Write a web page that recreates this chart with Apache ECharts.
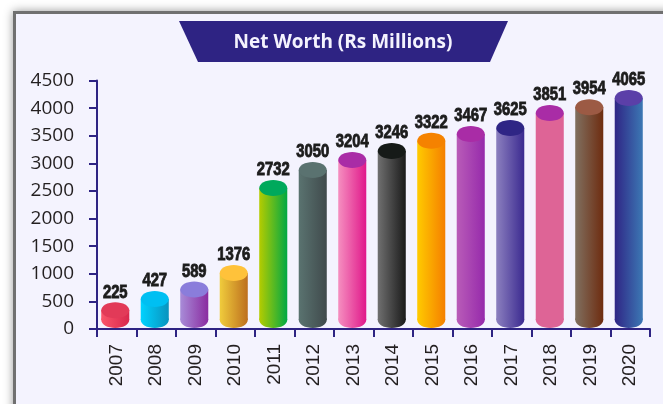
<!DOCTYPE html>
<html><head><meta charset="utf-8">
<style>html,body{margin:0;padding:0;background:#fff}#c{width:663px;height:404px}</style>
<script src="https://cdn.jsdelivr.net/npm/echarts@6/dist/echarts.min.js"></script>
</head><body><div id="c"></div>
<script>
const years = ['2007','2008','2009','2010','2011','2012','2013','2014','2015','2016','2017','2018','2019','2020'];
// values printed above the cylinders
const netWorth = [225,427,589,1376,2732,3050,3204,3246,3322,3467,3625,3851,3954,4065];
// cylinder heights as read against the axis (the picture draws some below their printed value)
const drawnHeight = [220,427,598,897,2437,2763,2944,3107,3293,3415,3524,3795,3899,4067];
const sideLeft = ['#F9556B','#00D2FF','#A88CD8','#F0CC3C','#B5CC00','#5A7370','#F58FC0','#707070','#FFCB00','#B95CB8','#8C80BF','#DE6496','#807060','#2F2585'];
const sideRight = ['#D9284C','#0A93BE','#8A2BA0','#BD6F1E','#00A843','#404A4C','#E0188A','#1A1A1A','#F57F00','#962AAB','#3B2A90','#DE6496','#6E2C10','#3C78B4'];
const topColor = ['#E23A58','#00BFF2','#8A7DDB','#FFC23A','#00A95C','#5A7270','#A92CA6','#161A18','#F58200','#A92CA6','#2F2585','#A92CA6','#9C5A44','#5B3FA8'];
const titleText = 'Net Worth (Rs Millions)';
const navy = '#2E2383', ink = '#231F20';

const chart = echarts.init(document.getElementById('c'), null, {renderer:'canvas'});
function renderCyl(params, api){
  const i = api.value(0);
  const p = api.coord([i, api.value(1)]);
  const base = api.coord([i, 0]);
  const w = api.size([1,0])[0] * 0.71, rx = w/2, ry = 8;
  const cx = p[0] - 1.5, cy = p[1] - 6.5, by = base[1] - 1;
  const grad = {type:'linear',x:0,y:0,x2:1,y2:0,colorStops:[{offset:0,color:sideLeft[i]},{offset:1,color:sideRight[i]}]};
  return {type:'group',children:[
    {type:'ellipse',shape:{cx:cx,cy:by-ry,rx:rx,ry:ry},style:{fill:grad}},
    {type:'rect',shape:{x:cx-rx,y:cy,width:w,height:by-ry-cy},style:{fill:grad}},
    {type:'ellipse',shape:{cx:cx,cy:cy,rx:rx,ry:ry},style:{fill:topColor[i]}},
    {type:'text',x:cx,y:cy-ry-10,scaleX:0.78,style:{text:String(netWorth[i]),fill:'#1c1c1c',
      font:'bold 19px "Liberation Sans",sans-serif',textAlign:'center',textVerticalAlign:'middle',
      stroke:'#1c1c1c',lineWidth:0.9}}
  ]};
}
chart.setOption({
  animation:false,
  backgroundColor:'#fff',
  title:{text:titleText,left:338,top:26,textAlign:'center',
    textStyle:{color:'#F4F3FE',fontFamily:'"Open Sans"',fontWeight:700,fontSize:19,lineHeight:24}},
  graphic:[
    {type:'rect',z:-11,shape:{x:13,y:11,width:720,height:480},style:{fill:'#707070',shadowBlur:9,shadowColor:'#999999'}},
    {type:'rect',z:-10,shape:{x:16,y:14,width:720,height:480},style:{fill:'#F4F3FE'}},
    {type:'polygon',z:-9,shape:{points:[[179,21],[508,21],[490,62],[198,62]]},style:{fill:navy}}
  ],
  grid:{left:97,right:13,top:80.5,bottom:75},
  xAxis:{type:'category',data:years,boundaryGap:true,
    axisLine:{lineStyle:{color:navy,width:2}},
    axisTick:{show:true,alignWithLabel:false,length:8,lineStyle:{color:navy,width:2}},
    axisLabel:{rotate:90,margin:15,color:ink,fontFamily:'"Liberation Sans"',fontSize:19,interval:0}},
  yAxis:{type:'value',min:0,max:4500,interval:500,
    splitLine:{show:false},
    axisLine:{show:true,lineStyle:{color:navy,width:2}},
    axisTick:{show:true,length:8,lineStyle:{color:navy,width:2}},
    axisLabel:{margin:23,color:ink,fontFamily:'"Open Sans"',fontSize:19,verticalAlign:'middle',formatter:v=>String(v)}},
  series:[{type:'custom',data:drawnHeight.map((v,i)=>[i,v]),encode:{x:0,y:1},renderItem:renderCyl,clip:false}]
});
</script></body></html>
